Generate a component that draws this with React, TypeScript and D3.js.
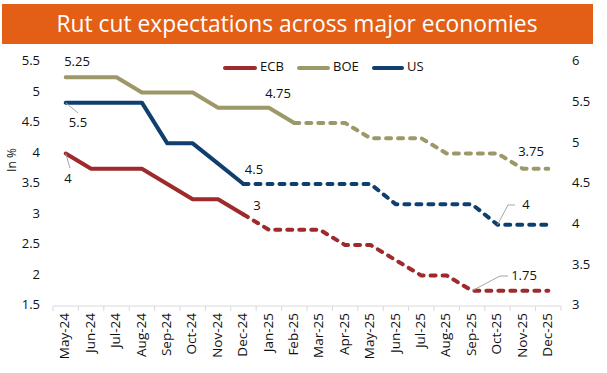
import React from "react";
import * as d3 from "d3";

const months = ["May-24","Jun-24","Jul-24","Aug-24","Sep-24","Oct-24","Nov-24","Dec-24","Jan-25","Feb-25","Mar-25","Apr-25","May-25","Jun-25","Jul-25","Aug-25","Sep-25","Oct-25","Nov-25","Dec-25"];
const ecb = [4, 3.75, 3.75, 3.75, 3.5, 3.25, 3.25, 3.0, 2.75, 2.75, 2.75, 2.5, 2.5, 2.25, 2.0, 2.0, 1.75, 1.75, 1.75, 1.75];
const boe = [5.25, 5.25, 5.25, 5.0, 5.0, 5.0, 4.75, 4.75, 4.75, 4.5, 4.5, 4.5, 4.25, 4.25, 4.25, 4.0, 4.0, 4.0, 3.75, 3.75];
const us = [5.5, 5.5, 5.5, 5.5, 5.0, 5.0, 4.75, 4.5, 4.5, 4.5, 4.5, 4.5, 4.5, 4.25, 4.25, 4.25, 4.25, 4.0, 4.0, 4.0];
const leftTicks = [1.5, 2, 2.5, 3, 3.5, 4, 4.5, 5, 5.5];
const rightTicks = [3, 3.5, 4, 4.5, 5, 5.5, 6];
const title = "Rut cut expectations across major economies";

const FONT = "'Open Sans', sans-serif";
const C_ECB = "#9E2A2B";
const C_BOE = "#9C9867";
const C_US = "#0E3F6E";

export default function App() {
  const x = d3.scaleBand<string>().domain(months).range([53, 561]);
  const cx = (i: number) => (x(months[i]) as number) + x.bandwidth() / 2;
  const yL = d3.scaleLinear().domain([1.5, 5.5]).range([306, 62]);
  const yR = d3.scaleLinear().domain([3, 6]).range([306, 62]);

  const seg = (vals: number[], y: d3.ScaleLinear<number, number>, from: number, to: number) => {
    const pts: [number, number][] = [];
    for (let i = from; i <= to; i++) pts.push([cx(i), y(vals[i])]);
    return d3.line()(pts) || "";
  };

  const series = [
    { vals: ecb, y: yL, color: C_ECB, split: 7 },
    { vals: boe, y: yL, color: C_BOE, split: 9 },
    { vals: us, y: yR, color: C_US, split: 7 },
  ];

  const bounds = d3.range(months.length + 1).map((i) => 53 + i * x.step());

  const lbl = { fontFamily: FONT, fontSize: 13, fill: "#111" } as const;

  return (
    <svg width={607} height={373} style={{ position: "absolute", left: 0, top: 0, background: "#fff" }}>
      <rect x={2} y={4} width={591} height={40} fill="#E35F15" />
      <text x={297} y={32} textAnchor="middle" fill="#fff" style={{ fontFamily: FONT, fontSize: 22.8 }}>{title}</text>

      {/* axes */}
      <line x1={53} x2={561} y1={306} y2={306} stroke="#d9d9d9" />
      {bounds.map((b, i) => (
        <line key={i} x1={b} x2={b} y1={306} y2={311} stroke="#d9d9d9" />
      ))}
      {leftTicks.map((t) => (
        <text key={t} x={40} y={yL(t)} textAnchor="end" dominantBaseline="middle" style={lbl}>{t}</text>
      ))}
      {rightTicks.map((t) => (
        <text key={t} x={572} y={yR(t)} textAnchor="start" dominantBaseline="middle" style={lbl}>{t}</text>
      ))}
      {months.map((m, i) => (
        <text key={m} transform={`translate(${cx(i)},313) rotate(-90)`} textAnchor="end" dominantBaseline="middle" style={{ ...lbl, fontSize: 13.5 }}>{m}</text>
      ))}
      <text transform="translate(13,160) rotate(-90)" textAnchor="middle" dominantBaseline="middle" style={{ ...lbl, fontSize: 12 }}>In %</text>

      {/* series */}
      {series.map((s, k) => (
        <g key={k} fill="none" stroke={s.color} strokeWidth={4} strokeLinejoin="round" strokeLinecap="round">
          <path d={seg(s.vals, s.y, 0, s.split)} />
          <path d={seg(s.vals, s.y, s.split, s.vals.length - 1)} strokeDasharray="5 7" />
        </g>
      ))}

      {/* legend */}
      <g strokeWidth={4} strokeLinecap="round">
        <line x1={225} x2={255} y1={68} y2={68} stroke={C_ECB} />
        <line x1={299} x2={328} y1={68} y2={68} stroke={C_BOE} />
        <line x1={374} x2={402} y1={68} y2={68} stroke={C_US} />
      </g>
      <text x={260} y={68} dominantBaseline="middle" style={lbl}>ECB</text>
      <text x={333} y={68} dominantBaseline="middle" style={lbl}>BOE</text>
      <text x={407} y={68} dominantBaseline="middle" style={lbl}>US</text>

      {/* data labels */}
      <g stroke="#a6a6a6" strokeWidth={1} fill="none">
        <polyline points={`${cx(0)},${yR(us[0])} 78,113`} />
        <polyline points={`${cx(0)},${yL(ecb[0])} 70,168`} />
        <polyline points={`${cx(17)},${yR(us[17])} 508,205 515,205`} />
        <polyline points={`${cx(16)},${yL(ecb[16])} 500,276 508,276`} />
      </g>
      <text x={77} y={63} textAnchor="middle" dominantBaseline="middle" style={lbl}>5.25</text>
      <text x={78} y={124} textAnchor="middle" dominantBaseline="middle" style={lbl}>5.5</text>
      <text x={68} y={180} textAnchor="middle" dominantBaseline="middle" style={lbl}>4</text>
      <text x={278} y={95} textAnchor="middle" dominantBaseline="middle" style={lbl}>4.75</text>
      <text x={254} y={171} textAnchor="middle" dominantBaseline="middle" style={lbl}>4.5</text>
      <text x={257} y={207} textAnchor="middle" dominantBaseline="middle" style={lbl}>3</text>
      <text x={531} y={153} textAnchor="middle" dominantBaseline="middle" style={lbl}>3.75</text>
      <text x={526} y={206} textAnchor="middle" dominantBaseline="middle" style={lbl}>4</text>
      <text x={524} y={277} textAnchor="middle" dominantBaseline="middle" style={lbl}>1.75</text>
    </svg>
  );
}
